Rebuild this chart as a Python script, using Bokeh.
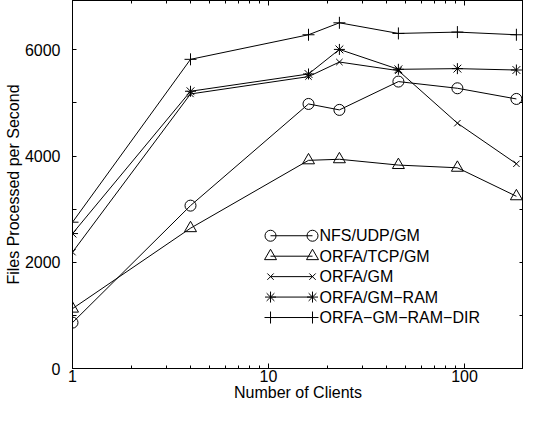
from bokeh.plotting import figure
from bokeh.models import Range1d, FixedTicker, LinearAxis, LogAxis, PrintfTickFormatter, CustomJSTickFormatter
from bokeh.core.properties import value
from bokeh.embed import file_html
from bokeh.resources import INLINE

# ---- data ----
clients = [1, 4, 16, 23, 46, 92, 184]
nfs_udp_gm = [864, 3067, 4982, 4870, 5403, 5277, 5076]
orfa_tcp_gm = [1127, 2642, 3920, 3940, 3831, 3780, 3243]
orfa_gm = [2191, 5170, 5497, 5771, 5609, 4620, 3855]
orfa_gm_ram = [2541, 5221, 5546, 6009, 5634, 5647, 5621]
orfa_gm_ram_dir = [2755, 5822, 6285, 6510, 6310, 6335, 6285]
series_names = ["NFS/UDP/GM", "ORFA/TCP/GM", "ORFA/GM", "ORFA/GM\u2212RAM", "ORFA\u2212GM\u2212RAM\u2212DIR"]
y_ticks = [0, 2000, 4000, 6000]
y_minor = [1000, 3000, 5000]
x_ticks = [1, 10, 100]
x_minor = [2, 3, 4, 5, 6, 7, 8, 9, 20, 30, 40, 50, 60, 70, 80, 90, 200]

FONT = "Liberation Sans"
FS = "16px"

p = figure(width=523, height=405, x_axis_type="log",
           x_range=Range1d(1, 200), y_range=Range1d(0, 6930),
           output_backend="svg", toolbar_location=None, title=None,
           min_border_left=72, min_border_right=0, min_border_top=0, min_border_bottom=37)
p.outline_line_color = "black"
p.outline_line_width = 1
p.xgrid.visible = False
p.ygrid.visible = False
p.background_fill_color = "white"
p.border_fill_color = "white"


def style(ax, major_in, minor_in, show_labels=True):
    ax.axis_line_color = "black"
    ax.major_tick_line_color = "black"
    ax.minor_tick_line_color = "black"
    ax.major_tick_in = major_in
    ax.major_tick_out = 0
    ax.minor_tick_in = minor_in
    ax.minor_tick_out = 0
    ax.major_label_text_font = FONT
    ax.major_label_text_color = "black"
    ax.major_label_text_font_size = FS
    ax.axis_label_text_font = FONT
    ax.axis_label_text_font_style = "normal"
    ax.axis_label_text_color = "black"
    ax.axis_label_text_font_size = FS
    if not show_labels:
        ax.formatter = CustomJSTickFormatter(code="return '';")
        ax.major_label_standoff = 0


xt = FixedTicker(ticks=x_ticks, minor_ticks=x_minor)
yt = FixedTicker(ticks=y_ticks, minor_ticks=y_minor)

xa = p.xaxis[0]
xa.ticker = xt
xa.formatter = PrintfTickFormatter(format="%d")
xa.axis_label = "Number of Clients"
style(xa, 5, 3)
xa.major_label_standoff = 1
xa.axis_label_standoff = -1

ya = p.yaxis[0]
ya.ticker = yt
ya.axis_label = "Files Processed per Second"
style(ya, 4, 4)
ya.major_label_standoff = 12
ya.axis_label_standoff = 0

ra = LinearAxis(ticker=FixedTicker(ticks=y_ticks, minor_ticks=y_minor))
style(ra, 4, 4, show_labels=False)
p.add_layout(ra, "right")
ta = LogAxis(ticker=FixedTicker(ticks=x_ticks, minor_ticks=x_minor))
style(ta, 5, 3, show_labels=False)
p.add_layout(ta, "above")

all_series = [nfs_udp_gm, orfa_tcp_gm, orfa_gm, orfa_gm_ram, orfa_gm_ram_dir]
markers = ["circle", "triangle", "x", "asterisk", "cross"]
sizes = [11, 12, 9, 11, 12]

for ys, m, s in zip(all_series, markers, sizes):
    p.line(clients, ys, line_color="black", line_width=1)
    p.scatter(clients, ys, marker=m, size=s, line_color="black",
              fill_color=None, line_width=1)

# ---- manual legend (markers at both ends of line sample) ----
leg_x0, leg_x1, leg_tx = 10.24, 16.77, 18.2
leg_y = [2500, 2115, 1730, 1345, 960]
for name, m, s, ly in zip(series_names, markers, sizes, leg_y):
    p.segment(x0=[leg_x0], y0=[ly], x1=[leg_x1], y1=[ly], line_color="black", line_width=1)
    p.scatter([leg_x0, leg_x1], [ly, ly], marker=m, size=s, line_color="black",
              fill_color=None, line_width=1)
    p.text(x=[leg_tx], y=[ly], text=[name], text_font=value(FONT),
           text_font_size=FS, text_baseline="middle", text_align="left",
           text_color="black")

open("out.html", "w").write(file_html(p, INLINE))
